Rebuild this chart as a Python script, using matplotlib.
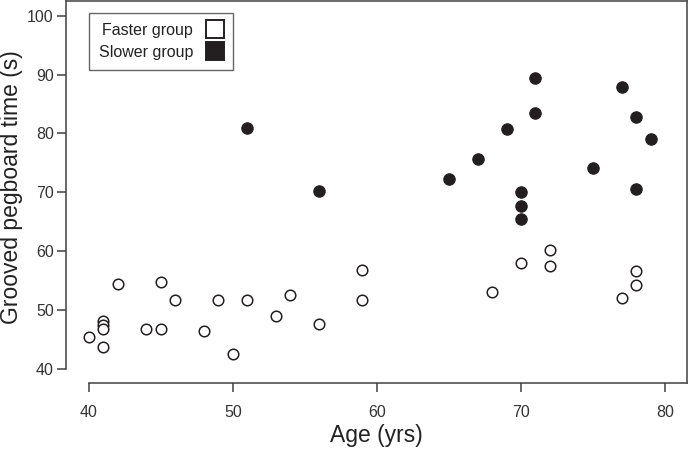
import matplotlib
matplotlib.use("Agg")
import matplotlib.pyplot as plt
from matplotlib.lines import Line2D

plt.rcParams["font.family"] = ["Liberation Sans", "DejaVu Sans"]

# Faster group (open circles)
fast_age = [40, 41, 41, 41, 41, 42, 44, 45, 45, 46, 48, 49, 50, 51, 53, 54,
            56, 59, 59, 68, 70, 72, 72, 77, 78, 78]
fast_time = [45.5, 48.1, 47.5, 46.7, 43.8, 54.5, 46.7, 54.7, 46.8, 51.7, 46.4,
             51.7, 42.6, 51.7, 49.0, 52.6, 47.7, 56.8, 51.7, 53.1, 58.0, 60.2,
             57.4, 52.0, 56.7, 54.2]

# Slower group (filled circles)
slow_age = [51, 56, 65, 67, 69, 70, 70, 70, 71, 71, 75, 77, 78, 78, 79]
slow_time = [81.0, 70.2, 72.2, 75.6, 80.8, 70.0, 67.6, 65.4, 89.4, 83.4,
             74.2, 87.9, 82.8, 70.6, 79.1]

x_ticks = [40, 50, 60, 70, 80]
y_ticks = [40, 50, 60, 70, 80, 90, 100]

ink = "#231f20"
spine_col = "#404040"

fig = plt.figure(figsize=(6.92, 4.55), dpi=100)
ax = fig.add_axes([0.0949, 0.1582, 0.8974, 0.8396])

ax.plot(fast_age, fast_time, "o", ls="none", ms=7.6, mfc="white",
        mec=ink, mew=1.1)
ax.plot(slow_age, slow_time, "o", ls="none", ms=8.2, mfc=ink,
        mec=ink, mew=0.8)

ax.set_xlim(38.4, 81.5)
ax.set_ylim(37.6, 102.5)
ax.set_xticks(x_ticks)
ax.set_yticks(y_ticks)

for s in ax.spines.values():
    s.set_color(spine_col)
    s.set_linewidth(1.1)
ax.spines["left"].set_bounds(40, 102.5)
ax.spines["bottom"].set_bounds(40, 81.5)

ax.tick_params(direction="out", length=6.5, width=1.1, color=spine_col,
               labelsize=11.5, labelcolor="#333333", pad=2)
ax.tick_params(axis="x", pad=9)
ax.tick_params(top=False, right=False)

ax.set_xlabel("Age (yrs)", fontsize=16.5, color="#222222", labelpad=3)
ax.set_ylabel("Grooved pegboard time (s)", fontsize=16.5, color="#222222")
ax.yaxis.set_label_coords(-0.069, 0.514)

handles = [
    Line2D([], [], ls="none", marker="s", ms=12.5, mfc="white", mec=ink, mew=1.4),
    Line2D([], [], ls="none", marker="s", ms=12.5, mfc=ink, mec=ink, mew=1.4),
]
leg = ax.legend(handles, ["Faster group", "Slower group"], loc="upper left",
                bbox_to_anchor=(0.0375, 0.968), borderaxespad=0,
                markerfirst=False, fontsize=11.5, frameon=True, fancybox=False,
                handlelength=1.0, handletextpad=0.9, labelspacing=0.45,
                borderpad=0.6)
leg.get_frame().set_edgecolor(spine_col)
leg.get_frame().set_linewidth(1.0)
for t in leg.get_texts():
    t.set_color("#222222")

fig.savefig("out.png", dpi=100)
